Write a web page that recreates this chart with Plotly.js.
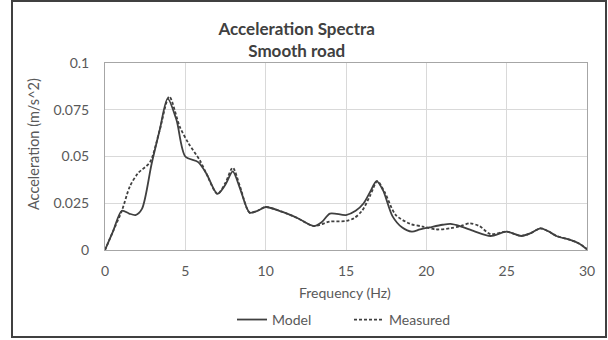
<!DOCTYPE html>
<html>
<head>
<meta charset="utf-8">
<script src="https://cdn.plot.ly/plotly-3.0.1.min.js"></script>
<style>
html,body{margin:0;padding:0;background:#fff;}
#chart{width:608px;height:340px;}
</style>
</head>
<body>
<div id="chart"></div>
<script>
const freqModel = [0, 0.5, 1.05, 1.5, 1.9, 2.3, 2.9, 3.4, 3.9, 4.45, 5.0, 5.8, 6.3, 7.0, 7.5, 7.95, 8.4, 9.0, 9.5, 10.0, 11.0, 12.0, 13.0, 13.5, 14.0, 15.0, 15.6, 16.1, 16.5, 16.9, 17.3, 17.9, 18.5, 19.1, 19.6, 20.2, 21.0, 21.5, 22.1, 23.0, 24.0, 25.0, 25.9, 26.5, 27.1, 27.6, 28.1, 29.0, 29.5, 30];
const accelModel = [0, 0.010, 0.021, 0.0195, 0.0187, 0.022, 0.046, 0.064, 0.081, 0.0695, 0.050, 0.047, 0.041, 0.030, 0.035, 0.042, 0.033, 0.020, 0.021, 0.023, 0.0205, 0.017, 0.0128, 0.015, 0.0195, 0.0187, 0.021, 0.025, 0.031, 0.0368, 0.032, 0.018, 0.012, 0.0098, 0.011, 0.0121, 0.0135, 0.014, 0.0128, 0.010, 0.0075, 0.0098, 0.0075, 0.009, 0.0116, 0.010, 0.0075, 0.0053, 0.0035, 0.0004];

const freqMeasured = [0, 0.5, 1.05, 1.55, 2.05, 2.8, 3.4, 4.0, 4.65, 5.2, 5.9, 6.3, 7.0, 7.5, 7.95, 8.4, 9.0, 9.5, 10.0, 11.0, 12.0, 13.0, 14.0, 15.0, 15.5, 16.0, 16.5, 16.95, 17.4, 18.1, 19.0, 19.8, 20.6, 21.5, 22.2, 22.7, 23.3, 24.0, 25.0, 25.9, 26.5, 27.1, 27.6, 28.1, 29.0, 29.5, 30];
const accelMeasured = [0, 0.010, 0.021, 0.034, 0.041, 0.047, 0.064, 0.082, 0.066, 0.057, 0.048, 0.041, 0.030, 0.036, 0.044, 0.034, 0.020, 0.021, 0.023, 0.0205, 0.017, 0.0128, 0.0152, 0.0155, 0.017, 0.021, 0.029, 0.0368, 0.031, 0.0187, 0.014, 0.0125, 0.011, 0.0116, 0.013, 0.0143, 0.0128, 0.0085, 0.0098, 0.0075, 0.009, 0.0116, 0.010, 0.0075, 0.0053, 0.0035, 0.0004];

const xTicks = [0, 5, 10, 15, 20, 25, 30];
const yTicks = [0, 0.025, 0.05, 0.075, 0.1];
const yTickText = ['0', '0.025', '0.05', '0.075', '0.1'];

const FONT = 'Lato, "Open Sans", sans-serif';
const TXT = '#595959';

const traces = [
  {x: freqModel, y: accelModel, name: 'Model', type: 'scatter', mode: 'lines',
   line: {color: '#404040', width: 1.8, shape: 'spline', smoothing: 0.8}},
  {x: freqMeasured, y: accelMeasured, name: 'Measured', type: 'scatter', mode: 'lines',
   line: {color: '#404040', width: 1.8, dash: '3px,2px', shape: 'spline', smoothing: 0.8}}
];

const layout = {
  width: 608, height: 340,
  margin: {l: 105, r: 21, t: 63, b: 90, autoexpand: false},
  paper_bgcolor: '#fff', plot_bgcolor: '#fff',
  font: {family: FONT, color: TXT, size: 14},
  title: {text: '<b>Acceleration Spectra</b><br><b>Smooth road</b>', x: 0.488, xref: 'container', xanchor: 'center',
          y: 1 - 35 / 340, yref: 'container', yanchor: 'middle', font: {family: FONT, size: 17, color: '#404040'}},
  xaxis: {range: [0, 30], tickvals: xTicks, showgrid: true, gridcolor: '#d9d9d9', gridwidth: 1,
          zeroline: false, showline: true, linecolor: '#a6a6a6', linewidth: 1, mirror: true,
          ticks: '', ticklabelstandoff: 8, tickfont: {size: 14, color: TXT}, fixedrange: true},
  yaxis: {range: [0, 0.1], tickvals: yTicks, ticktext: yTickText, showgrid: true, gridcolor: '#d9d9d9', gridwidth: 1,
          zeroline: false, showline: true, linecolor: '#a6a6a6', linewidth: 1, mirror: true,
          ticks: '', ticklabelstandoff: 12, tickfont: {size: 14, color: TXT}, fixedrange: true},
  showlegend: true,
  legend: {orientation: 'h', x: (232 - 105) / 482, xanchor: 'left', y: -0.374, yanchor: 'middle',
           font: {size: 14, color: TXT}, bgcolor: 'rgba(0,0,0,0)', entrywidth: 72, entrywidthmode: 'pixels'},
  annotations: [
    {text: 'Frequency (Hz)', xref: 'paper', yref: 'paper', x: 0.498, y: (250 - 292) / 187,
     xanchor: 'center', yanchor: 'middle', showarrow: false, font: {size: 14, color: TXT}},
    {text: 'Acceleration (m/s^2)', xref: 'paper', yref: 'paper', x: (33 - 105) / 482, y: (250 - 144) / 187,
     xanchor: 'center', yanchor: 'middle', textangle: -90, showarrow: false, font: {size: 14.5, color: TXT}}
  ],
  shapes: [
    {type: 'rect', xref: 'paper', yref: 'paper',
     x0: (12 - 105) / 482, x1: (606 - 105) / 482, y0: (250 - 337) / 187, y1: (250 - 1) / 187,
     line: {color: '#404040', width: 2}, fillcolor: 'rgba(0,0,0,0)', layer: 'below'}
  ]
};

Plotly.newPlot('chart', traces, layout, {displayModeBar: false, staticPlot: true});
</script>
</body>
</html>
